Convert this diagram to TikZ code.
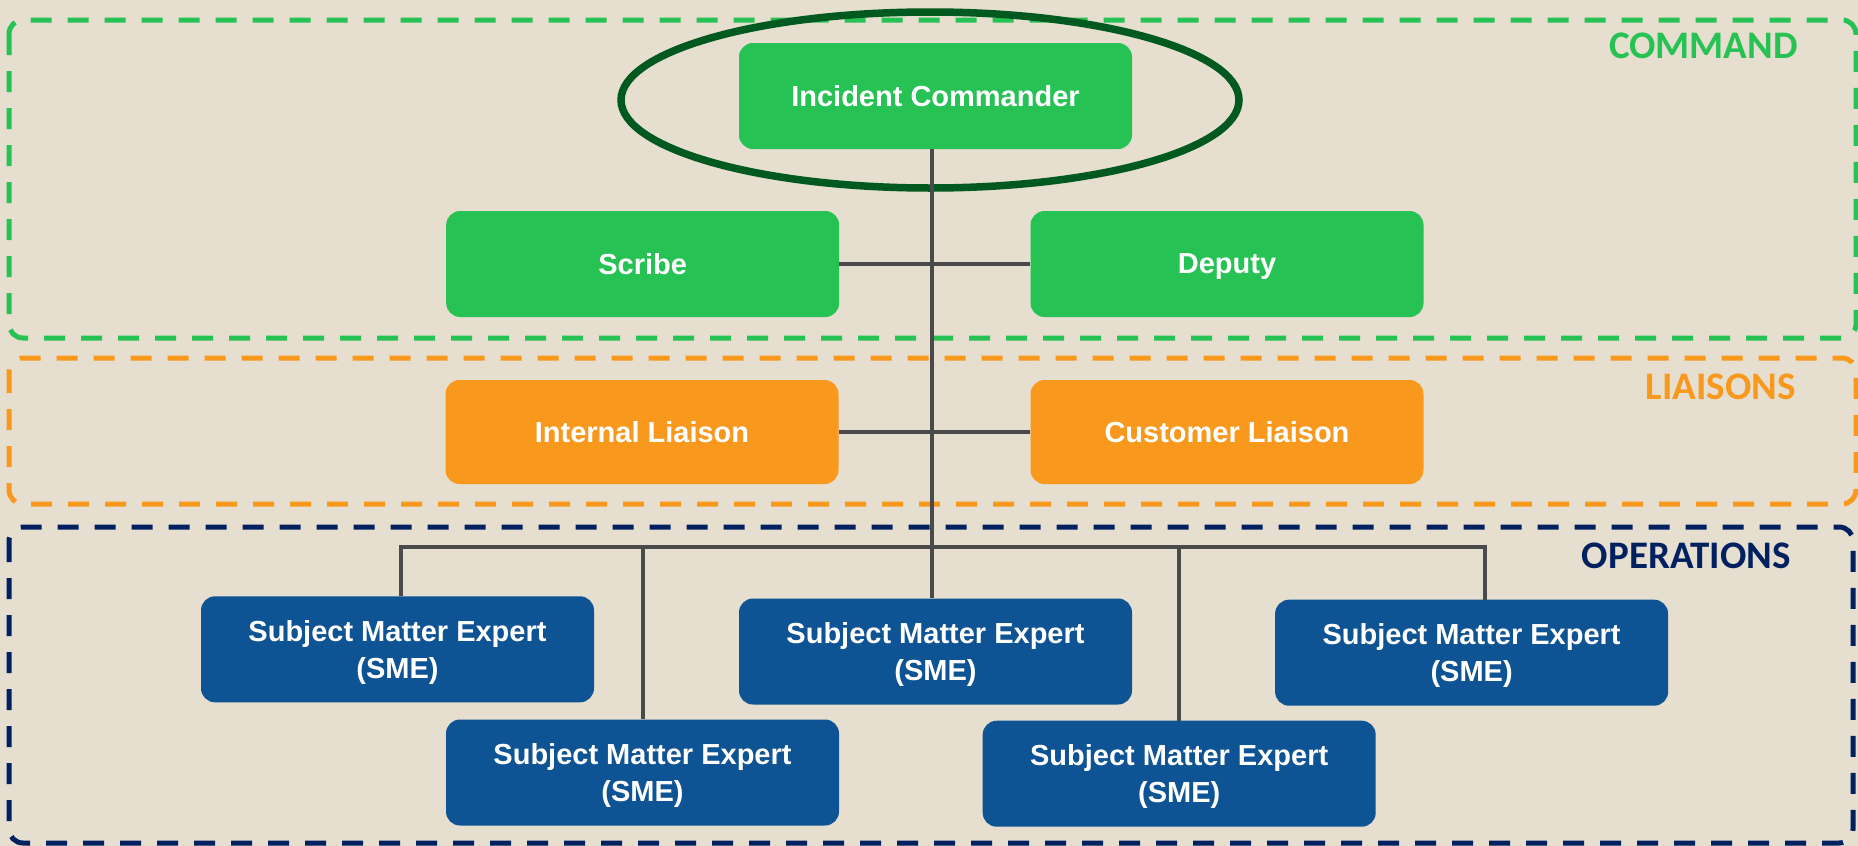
\documentclass[tikz,border=0pt]{standalone}
\usepackage{fontspec}
\setmainfont{Liberation Sans}
\newfontfamily\carlito{Carlito}
\definecolor{bgc}{HTML}{E6DECE}
\definecolor{cgreen}{HTML}{26C254}
\definecolor{corange}{HTML}{F8991D}
\definecolor{cblue}{HTML}{0E5394}
\definecolor{cnavy}{HTML}{002060}
\definecolor{cdgreen}{HTML}{005A20}
\definecolor{cline}{HTML}{4A4A4A}
\begin{document}
\begin{tikzpicture}[x=1pt,y=-1pt,
  box/.style={rounded corners=14pt, minimum width=393pt, minimum height=106pt, inner sep=0pt,
    text depth=0pt, text=white, font=\fontsize{29}{36.5}\selectfont\bfseries, align=center},
  gbox/.style={box, fill=cgreen},
  obox/.style={box, fill=corange, minimum height=104pt},
  bbox/.style={box, fill=cblue},
  zone/.style={line width=5pt, dash pattern=on 21pt off 16pt, rounded corners=14pt},
  zlabel/.style={anchor=base east, inner sep=0pt, font=\carlito\bfseries\fontsize{39}{44}\selectfont},
  conn/.style={draw=cline, line width=4pt}
]
\useasboundingbox[fill=bgc] (0,0) rectangle (1858,846);

% zones
\draw[zone, draw=cgreen] (9,20) rectangle (1856,338);
\draw[zone, draw=corange] (9,358) rectangle (1856,504);
\draw[zone, draw=cnavy] (9,527) rectangle (1853,843);

\node[zlabel, text=cgreen] (lcmd) at (1798,58) {COMMAND};
\node[zlabel, text=corange] (llia) at (1796,399) {LIAISONS};
\node[zlabel, text=cnavy] (lops) at (1791,568.5) {OPERATIONS};

% highlight ellipse
\draw[cdgreen, line width=7.5pt] (930,100) ellipse [x radius=309pt, y radius=88pt];

% nodes
\node[gbox] (ic) at (935.5,96) {Incident Commander};
\node[gbox] (scribe) at (642.7,264) {Scribe};
\node[gbox] (deputy) at (1227,264) {Deputy};
\node[obox] (internal) at (642,432) {Internal Liaison};
\node[obox] (customer) at (1227,432) {Customer Liaison};
\node[bbox] (sme1) at (397.5,649.3) {Subject Matter Expert\\(SME)};
\node[bbox] (sme2) at (935.5,651.5) {Subject Matter Expert\\(SME)};
\node[bbox] (sme3) at (1471.6,652.7) {Subject Matter Expert\\(SME)};
\node[bbox] (sme4) at (642.5,772.5) {Subject Matter Expert\\(SME)};
\node[bbox] (sme5) at (1179.2,773.7) {Subject Matter Expert\\(SME)};

% connectors
\coordinate (b0) at (932,547);
\coordinate (bL) at (401,547);
\coordinate (bR) at (1485,547);
\draw[conn] (ic.south -| b0) -- (sme2.north -| b0);
\draw[conn] (scribe.east) -- (deputy.west);
\draw[conn] (internal.east) -- (customer.west);
\draw[conn] (sme1.north -| bL) -- (bL) -- (bR) -- (sme3.north -| bR);
\draw[conn] (sme4.north) -- (sme4.north |- bL);
\draw[conn] (sme5.north) -- (sme5.north |- bL);
\end{tikzpicture}
\end{document}
